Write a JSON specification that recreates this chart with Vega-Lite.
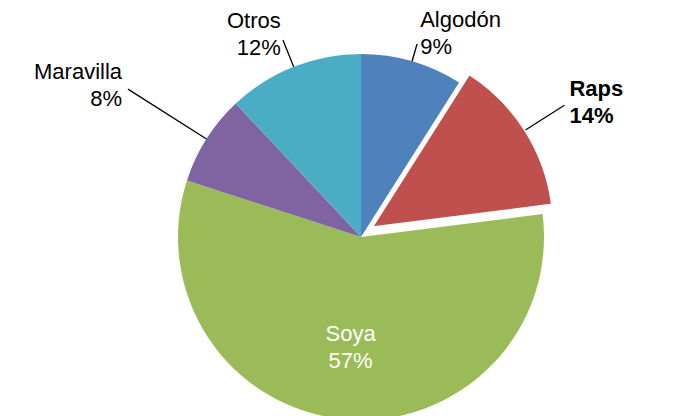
{
  "$schema": "https://vega.github.io/schema/vega-lite/v6.json",
  "width": 638,
  "height": 358,
  "autosize": {"type": "none"},
  "padding": {"left": 42, "top": 58, "right": 0, "bottom": 0},
  "background": "white",
  "config": {"view": {"stroke": null}, "font": "Liberation Sans"},
  "data": {
    "values": [
      {"cultivo": "Algodón", "valor": 9, "orden": 1},
      {"cultivo": "Raps", "valor": 14, "orden": 2},
      {"cultivo": "Soya", "valor": 57, "orden": 3},
      {"cultivo": "Maravilla", "valor": 8, "orden": 4},
      {"cultivo": "Otros", "valor": 12, "orden": 5}
    ]
  },
  "transform": [
    {"window": [{"op": "sum", "field": "valor", "as": "acum"}], "sort": [{"field": "orden"}], "frame": [null, 0]},
    {"joinaggregate": [{"op": "sum", "field": "valor", "as": "total"}]},
    {"calculate": "(datum.acum - datum.valor / 2) / datum.total * 2 * PI", "as": "medio"},
    {"calculate": "[datum.cultivo, datum.valor + '%']", "as": "etiqueta"}
  ],
  "layer": [
    {
      "mark": {"type": "arc", "radius": 183},
      "encoding": {
        "theta": {"field": "valor", "type": "quantitative", "stack": true},
        "order": {"field": "orden", "type": "quantitative"},
        "color": {
          "field": "cultivo", "type": "nominal", "legend": null,
          "scale": {"domain": ["Algodón", "Raps", "Soya", "Maravilla", "Otros"], "range": ["#4F81BD", "#C0504D", "#9BBB59", "#8064A2", "#4BACC6"]}
        },
        "opacity": {"condition": {"test": "datum.cultivo === 'Raps'", "value": 0}, "value": 1}
      }
    },
    {
      "mark": {"type": "arc", "radius": 183, "xOffset": 10, "yOffset": -9, "stroke": "white", "strokeWidth": 3},
      "encoding": {
        "theta": {"field": "valor", "type": "quantitative", "stack": true},
        "order": {"field": "orden", "type": "quantitative"},
        "color": {"field": "cultivo", "type": "nominal", "legend": null},
        "opacity": {"condition": {"test": "datum.cultivo === 'Raps'", "value": 1}, "value": 0}
      }
    },
    {
      "transform": [{"filter": "datum.cultivo === 'Otros'"}],
      "mark": {"type": "arc", "radius": 212, "radius2": 183, "filled": false, "stroke": "black", "strokeWidth": 1.3},
      "encoding": {
        "theta": {"field": "medio", "type": "quantitative", "scale": null},
        "theta2": {"field": "medio"}
      }
    },
    {
      "transform": [{"filter": "datum.cultivo === 'Algodón'"}],
      "mark": {"type": "arc", "radius": 201, "radius2": 183, "filled": false, "stroke": "black", "strokeWidth": 1.3},
      "encoding": {
        "theta": {"field": "medio", "type": "quantitative", "scale": null},
        "theta2": {"field": "medio"}
      }
    },
    {
      "transform": [{"filter": "datum.cultivo === 'Maravilla'"}],
      "mark": {"type": "arc", "radius": 276, "radius2": 183, "filled": false, "stroke": "black", "strokeWidth": 1.3},
      "encoding": {
        "theta": {"field": "medio", "type": "quantitative", "scale": null},
        "theta2": {"field": "medio"}
      }
    },
    {
      "transform": [{"filter": "datum.cultivo === 'Raps'"}],
      "mark": {"type": "arc", "radius": 229, "radius2": 183, "xOffset": 10, "yOffset": -9, "filled": false, "stroke": "black", "strokeWidth": 1.3},
      "encoding": {
        "theta": {"field": "medio", "type": "quantitative", "scale": null},
        "theta2": {"field": "medio"}
      }
    },
    {
      "transform": [{"filter": "datum.cultivo === 'Otros'"}],
      "mark": {"type": "text", "radius": 218, "align": "right", "baseline": "middle", "dy": -13.5, "fontSize": 22, "lineHeight": 27, "color": "black"},
      "encoding": {
        "theta": {"field": "medio", "type": "quantitative", "scale": null},
        "text": {"field": "etiqueta"}
      }
    },
    {
      "transform": [{"filter": "datum.cultivo === 'Maravilla'"}],
      "mark": {"type": "text", "radius": 283, "align": "right", "baseline": "middle", "dy": -13.5, "fontSize": 22, "lineHeight": 27, "color": "black"},
      "encoding": {
        "theta": {"field": "medio", "type": "quantitative", "scale": null},
        "text": {"field": "etiqueta"}
      }
    },
    {
      "transform": [{"filter": "datum.cultivo === 'Algodón'"}],
      "mark": {"type": "text", "radius": 212, "align": "left", "baseline": "middle", "dy": -13.5, "fontSize": 22, "lineHeight": 27, "color": "black"},
      "encoding": {
        "theta": {"field": "medio", "type": "quantitative", "scale": null},
        "text": {"field": "etiqueta"}
      }
    },
    {
      "transform": [{"filter": "datum.cultivo === 'Raps'"}],
      "mark": {"type": "text", "radius": 235, "xOffset": 10, "yOffset": -9, "align": "left", "baseline": "middle", "dy": -13.5, "fontSize": 22, "fontWeight": "bold", "lineHeight": 27, "color": "black"},
      "encoding": {
        "theta": {"field": "medio", "type": "quantitative", "scale": null},
        "text": {"field": "etiqueta"}
      }
    },
    {
      "transform": [{"filter": "datum.cultivo === 'Soya'"}],
      "mark": {"type": "text", "radius": 111, "align": "center", "baseline": "middle", "dy": -13.5, "fontSize": 22, "lineHeight": 27, "color": "white"},
      "encoding": {
        "theta": {"field": "medio", "type": "quantitative", "scale": null},
        "text": {"field": "etiqueta"}
      }
    }
  ]
}
